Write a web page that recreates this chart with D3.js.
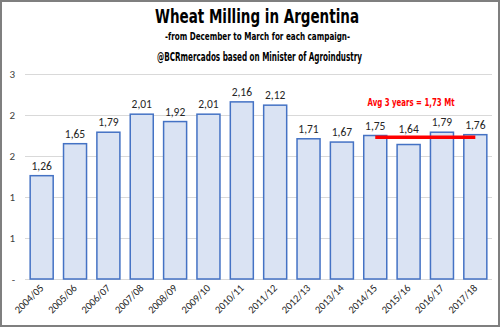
<!DOCTYPE html>
<html>
<head>
  <meta charset="utf-8" />
  <title>Wheat Milling in Argentina</title>
  <style>
    body { margin: 0; background: #fff; }
    svg { display: block; }
  </style>
</head>
<body>
  <svg id="chart" width="500" height="327"></svg>
  <script src="https://cdn.jsdelivr.net/npm/d3@7/dist/d3.min.js"></script>
  <script>
    var campaigns = ['2004/05', '2005/06', '2006/07', '2007/08', '2008/09', '2009/10', '2010/11',
                     '2011/12', '2012/13', '2013/14', '2014/15', '2015/16', '2016/17', '2017/18']
    var milling = [1.26, 1.65, 1.79, 2.01, 1.92, 2.01, 2.16, 2.12, 1.71, 1.67, 1.75, 1.64, 1.79, 1.76]
    var yTicks = [0, 0.5, 1, 1.5, 2, 2.5]
    var avgFrom = '2014/15', avgTo = '2017/18', avgValue = 1.73

    var svg = d3.select('#chart')
    var condensed = '"DejaVu Sans Condensed", "Liberation Sans Narrow", sans-serif'
    var labelFont = 'Carlito, "Open Sans", "Liberation Sans", sans-serif'

    // outer frame
    svg.append('rect')
      .attr('x', 1).attr('y', 1).attr('width', 498).attr('height', 325)
      .attr('fill', '#fff').attr('stroke', '#7f7f7f').attr('stroke-width', 2)

    var x = d3.scaleBand().domain(campaigns).range([25, 492]).paddingInner(0.31).paddingOuter(0.155)
    var y = d3.scaleLinear().domain([0, 2.5]).range([279, 74])

    // gridlines
    svg.append('g')
      .selectAll('line')
      .data(yTicks)
      .enter()
      .append('line')
      .attr('x1', 25).attr('x2', 492)
      .attr('y1', function (d) { return y(d) + 0.5 })
      .attr('y2', function (d) { return y(d) + 0.5 })
      .attr('stroke', '#d9d9d9').attr('stroke-width', 1)

    // y axis labels (rounded like Excel's 0 decimals format)
    var yAxis = d3.axisLeft(y).tickValues(yTicks).tickSize(0).tickPadding(0)
      .tickFormat(function (d) { return d === 0 ? '-' : Math.floor(d + 0.5) })
    svg.append('g')
      .attr('transform', 'translate(15,0)')
      .call(yAxis)
      .call(function (g) { g.select('.domain').remove() })
      .selectAll('text')
      .attr('font-family', labelFont).attr('font-size', 11).attr('fill', '#404040')

    // bars
    svg.append('g')
      .selectAll('rect')
      .data(milling)
      .enter()
      .append('rect')
      .attr('x', function (d, i) { return x(campaigns[i]) })
      .attr('y', function (d) { return y(d) })
      .attr('width', x.bandwidth())
      .attr('height', function (d) { return y(0) - y(d) })
      .attr('fill', '#dae3f3')
      .attr('stroke', '#4472c4')
      .attr('stroke-width', 1.5)

    // data labels (those under the average line are lifted above it)
    var iFrom = campaigns.indexOf(avgFrom), iTo = campaigns.indexOf(avgTo)
    svg.append('g')
      .selectAll('text')
      .data(milling)
      .enter()
      .append('text')
      .attr('x', function (d, i) { return x(campaigns[i]) + x.bandwidth() / 2 })
      .attr('y', function (d, i) {
        var ly = y(d) - 6
        if (i >= iFrom && i <= iTo && d < avgValue) ly = Math.min(ly, y(avgValue) - 4)
        return ly
      })
      .attr('text-anchor', 'middle')
      .attr('font-family', labelFont).attr('font-size', 11.5).attr('fill', '#262626')
      .text(function (d) { return d.toFixed(2).replace('.', ',') })

    // x axis labels
    var xAxis = d3.axisBottom(x).tickSize(0).tickPadding(0)
    svg.append('g')
      .attr('transform', 'translate(0,286)')
      .call(xAxis)
      .call(function (g) { g.select('.domain').remove() })
      .selectAll('text')
      .attr('font-family', labelFont).attr('font-size', 10.5).attr('fill', '#262626')
      .attr('text-anchor', 'end')
      .attr('dy', '0.35em')
      .attr('transform', 'rotate(-45)')
      .attr('x', 0).attr('y', 0)

    // average line
    svg.append('line')
      .attr('x1', x(avgFrom) + x.bandwidth() / 2)
      .attr('x2', x(avgTo) + x.bandwidth() / 2)
      .attr('y1', y(avgValue)).attr('y2', y(avgValue))
      .attr('stroke', '#ff0000').attr('stroke-width', 3.5)

    svg.append('text')
      .attr('x', 411).attr('y', 106)
      .attr('text-anchor', 'middle')
      .attr('font-family', condensed).attr('font-weight', 'bold').attr('font-size', 11)
      .attr('textLength', 87).attr('lengthAdjust', 'spacingAndGlyphs')
      .attr('fill', '#ff0000')
      .text('Avg 3 years = ' + avgValue.toFixed(2).replace('.', ',') + ' Mt')

    // titles
    svg.append('text')
      .attr('x', 257).attr('y', 23)
      .attr('text-anchor', 'middle')
      .attr('font-family', condensed).attr('font-weight', 'bold').attr('font-size', 20)
      .attr('textLength', 204).attr('lengthAdjust', 'spacingAndGlyphs')
      .attr('fill', '#000')
      .text('Wheat Milling in Argentina')

    svg.append('text')
      .attr('x', 257.5).attr('y', 40)
      .attr('text-anchor', 'middle')
      .attr('font-family', condensed).attr('font-weight', 'bold').attr('font-size', 11)
      .attr('textLength', 185).attr('lengthAdjust', 'spacingAndGlyphs')
      .attr('fill', '#000')
      .text('-from December to March for each campaign-')

    svg.append('text')
      .attr('x', 259.5).attr('y', 61)
      .attr('text-anchor', 'middle')
      .attr('font-family', condensed).attr('font-weight', 'bold').attr('font-size', 11.5)
      .attr('textLength', 205).attr('lengthAdjust', 'spacingAndGlyphs')
      .attr('fill', '#000')
      .text('@BCRmercados based on Minister of Agroindustry')
  </script>
</body>
</html>
